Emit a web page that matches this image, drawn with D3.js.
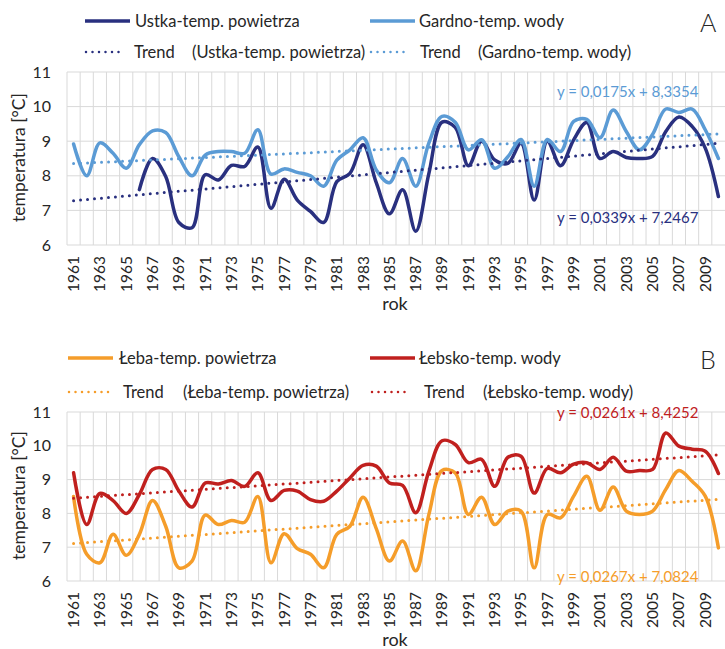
<!DOCTYPE html>
<html>
<head>
<meta charset="utf-8">
<script src="https://cdn.jsdelivr.net/npm/d3@7"></script>
<style>
  body { margin: 0; background: #fff; }
  text { font-family: Lato, 'Open Sans', sans-serif; fill: #262626; }
</style>
</head>
<body>
<svg id="viz" width="725" height="649"></svg>
<script>
const years = [1961, 1962, 1963, 1964, 1965, 1966, 1967, 1968, 1969, 1970,
  1971, 1972, 1973, 1974, 1975, 1976, 1977, 1978, 1979, 1980,
  1981, 1982, 1983, 1984, 1985, 1986, 1987, 1988, 1989, 1990,
  1991, 1992, 1993, 1994, 1995, 1996, 1997, 1998, 1999, 2000,
  2001, 2002, 2003, 2004, 2005, 2006, 2007, 2008, 2009, 2010];
const yearLabels = [1961, 1963, 1965, 1967, 1969, 1971, 1973, 1975, 1977, 1979,
  1981, 1983, 1985, 1987, 1989, 1991, 1993, 1995, 1997, 1999,
  2001, 2003, 2005, 2007, 2009];
const tempTicks = [6, 7, 8, 9, 10, 11];

// panel A
const ustkaAir = [null, null, null, null, null, 7.6, 8.5, 7.98, 6.65, 6.5,
  8.03, 7.88, 8.3, 8.27, 8.83, 7.06, 7.9, 7.3, 6.97, 6.65,
  7.83, 8.07, 8.9, 7.8, 6.9, 7.6, 6.4, 8.07, 9.55, 9.4,
  8.29, 9.0, 8.46, 8.36, 8.94, 7.3, 9.0, 8.29, 9.04, 9.54,
  8.5, 8.7, 8.53, 8.5, 8.56, 9.28, 9.7, 9.43, 8.8, 7.4];
const gardnoWater = [8.92, 8.0, 8.95, 8.65, 8.22, 8.9, 9.3, 9.25, 8.55, 8.0,
  8.6, 8.7, 8.7, 8.65, 9.33, 8.05, 8.2, 8.1, 8.0, 7.7,
  8.45, 8.75, 9.1, 8.17, 7.8, 8.5, 7.7, 8.95, 9.72, 9.55,
  8.75, 9.04, 8.22, 8.55, 9.05, 7.7, 9.05, 8.7, 9.57, 9.63,
  9.1, 9.9, 9.28, 8.75, 9.2, 9.93, 9.83, 9.93, 9.33, 8.5];
const ustkaTrend = [0.0339, 7.2467];
const gardnoTrend = [0.0175, 8.3354];

// panel B
const lebaAir = [8.5, 6.79, 6.54, 7.38, 6.76, 7.38, 8.38, 7.62, 6.39, 6.59,
  7.95, 7.67, 7.79, 7.74, 8.5, 6.54, 7.4, 6.96, 6.79, 6.39,
  7.38, 7.62, 8.48, 7.55, 6.59, 7.18, 6.3, 7.97, 9.27, 9.2,
  7.97, 8.48, 7.67, 8.07, 8.07, 6.39, 7.97, 7.87, 8.51, 9.1,
  8.09, 8.78, 8.07, 7.97, 8.07, 8.71, 9.27, 8.95, 8.51, 6.98];
const lebskoWater = [9.2, 7.67, 8.59, 8.38, 8.0, 8.56, 9.3, 9.3, 8.66, 8.19,
  8.9, 8.87, 8.97, 8.8, 9.2, 8.38, 8.68, 8.66, 8.41, 8.36,
  8.66, 9.05, 9.42, 9.4, 8.9, 8.83, 8.02, 9.25, 10.15, 10.04,
  9.5, 9.6, 8.8, 9.66, 9.69, 8.6, 9.33, 9.2, 9.46, 9.5,
  9.3, 9.66, 9.25, 9.27, 9.3, 10.38, 9.99, 9.9, 9.84, 9.18];
const lebaTrend = [0.0267, 7.0824];
const lebskoTrend = [0.0261, 8.4252];

const svg = d3.select('#viz');
const x = d3.scaleBand().domain(years).range([67, 725]);
const bw = x.bandwidth();

// legend layout: [line x1, line x2, label x, dots x1, dots x2, "Trend" x, "(...)" x]
const panels = [
  {
    letter: 'A', top: 72, bottom: 245, legendY: [21, 52],
    series: [
      { name: 'Ustka-temp. powietrza', values: ustkaAir, trend: ustkaTrend, color: '#29307f', eqY: 218,
        lg: [85, 130, 135, 86, 122, 134, 192] },
      { name: 'Gardno-temp. wody', values: gardnoWater, trend: gardnoTrend, color: '#5b9bd5', eqY: 92,
        lg: [370, 415, 419, 371, 407, 420, 478] },
    ],
  },
  {
    letter: 'B', top: 412, bottom: 581, legendY: [358, 392],
    series: [
      { name: 'Łeba-temp. powietrza', values: lebaAir, trend: lebaTrend, color: '#f59d2a', eqY: 577,
        lg: [68, 113, 119, 69, 110, 123, 183] },
      { name: 'Łebsko-temp. wody', values: lebskoWater, trend: lebskoTrend, color: '#c0201e', eqY: 413,
        lg: [370, 415, 419, 372, 410, 424, 483] },
    ],
  },
];

function fmt(v, digits) {
  return v.toFixed(digits).replace('.', ',');
}

panels.forEach(function (p) {
  const y = d3.scaleLinear().domain([6, 11]).range([p.bottom, p.top]);
  const g = svg.append('g');

  // grid
  g.append('g')
    .selectAll('line')
    .data(tempTicks)
    .join('line')
    .attr('x1', 67)
    .attr('x2', 725)
    .attr('y1', (d) => y(d))
    .attr('y2', (d) => y(d))
    .attr('stroke', '#d9d9d9')
    .attr('stroke-width', 1);
  g.append('g')
    .selectAll('line')
    .data(years)
    .join('line')
    .attr('x1', (d) => x(d))
    .attr('x2', (d) => x(d))
    .attr('y1', p.top)
    .attr('y2', p.bottom)
    .attr('stroke', '#d9d9d9')
    .attr('stroke-width', 1);

  // y axis
  const yAxis = g.append('g')
    .attr('transform', 'translate(55,0)')
    .call(d3.axisLeft(y).tickValues(tempTicks).tickFormat(d3.format('d')).tickSize(0).tickPadding(4));
  yAxis.select('.domain').remove();
  yAxis.selectAll('text')
    .style('font-size', '16px')
    .style('font-family', "Lato, 'Open Sans', sans-serif")
    .attr('fill', '#262626');

  g.append('text')
    .attr('transform', 'translate(19,' + ((p.top + p.bottom) / 2 - 1) + ') rotate(-90)')
    .attr('text-anchor', 'middle')
    .attr('dy', '0.35em')
    .style('font-size', '17.5px')
    .text('temperatura [°C]');

  // x axis
  const xAxis = g.append('g')
    .attr('transform', 'translate(0,' + p.bottom + ')')
    .call(d3.axisBottom(x).tickValues(yearLabels).tickSize(0).tickPadding(0));
  xAxis.select('.domain').remove();
  xAxis.selectAll('text')
    .attr('transform', 'rotate(-90)')
    .attr('text-anchor', 'end')
    .attr('x', -11)
    .attr('y', 0)
    .attr('dy', '0.35em')
    .style('font-size', '15.5px')
    .style('font-family', "Lato, 'Open Sans', sans-serif")
    .attr('fill', '#262626');

  g.append('text')
    .attr('x', 395)
    .attr('y', p.bottom + 65)
    .attr('text-anchor', 'middle')
    .style('font-size', '18px')
    .text('rok');

  // series
  const line = d3.line()
    .defined((d) => d[1] != null)
    .x((d) => x(d[0]) + bw / 2)
    .y((d) => y(d[1]))
    .curve(d3.curveCatmullRom.alpha(0.5));

  p.series.forEach(function (s) {
    g.append('path')
      .datum(years.map((yr, i) => [yr, s.values[i]]))
      .attr('d', line)
      .attr('fill', 'none')
      .attr('stroke', s.color)
      .attr('stroke-width', 3.5)
      .attr('stroke-linejoin', 'round')
      .attr('stroke-linecap', 'round');
  });

  p.series.forEach(function (s) {
    const a = s.trend[0];
    const b = s.trend[1];
    const ends = [[years[0], a * 1 + b], [years[years.length - 1], a * years.length + b]];
    g.append('path')
      .datum(ends)
      .attr('d', d3.line().x((d) => x(d[0]) + bw / 2).y((d) => y(d[1])))
      .attr('fill', 'none')
      .attr('stroke', s.color)
      .attr('stroke-width', 3)
      .attr('stroke-linecap', 'round')
      .attr('stroke-dasharray', '0 7');

    g.append('text')
      .attr('x', 557)
      .attr('y', s.eqY)
      .attr('dy', '0.35em')
      .style('font-size', '15px')
      .style('fill', s.color)
      .text('y = ' + fmt(a, 4) + 'x + ' + fmt(b, 4));
  });

  // legend
  p.series.forEach(function (s) {
    const lg = s.lg;
    const y1 = p.legendY[0];
    const y2 = p.legendY[1];
    g.append('line')
      .attr('x1', lg[0]).attr('x2', lg[1])
      .attr('y1', y1).attr('y2', y1)
      .attr('stroke', s.color)
      .attr('stroke-width', 3.5);
    g.append('text')
      .attr('x', lg[2])
      .attr('y', y1)
      .attr('dy', '0.35em')
      .style('font-size', '16.5px')
      .text(s.name);

    g.append('line')
      .attr('x1', lg[3]).attr('x2', lg[4])
      .attr('y1', y2).attr('y2', y2)
      .attr('stroke', s.color)
      .attr('stroke-width', 2.5)
      .attr('stroke-linecap', 'round')
      .attr('stroke-dasharray', '0 6.5');
    g.append('text')
      .attr('x', lg[5])
      .attr('y', y2)
      .attr('dy', '0.35em')
      .style('font-size', '16.5px')
      .text('Trend');
    g.append('text')
      .attr('x', lg[6])
      .attr('y', y2)
      .attr('dy', '0.35em')
      .style('font-size', '16.5px')
      .text('(' + s.name + ')');
  });

  g.append('text')
    .attr('x', 700)
    .attr('y', p.legendY[0] + 2)
    .attr('dy', '0.35em')
    .style('font-size', '25px')
    .style('font-weight', 300)
    .text(p.letter);
});
</script>
</body>
</html>
